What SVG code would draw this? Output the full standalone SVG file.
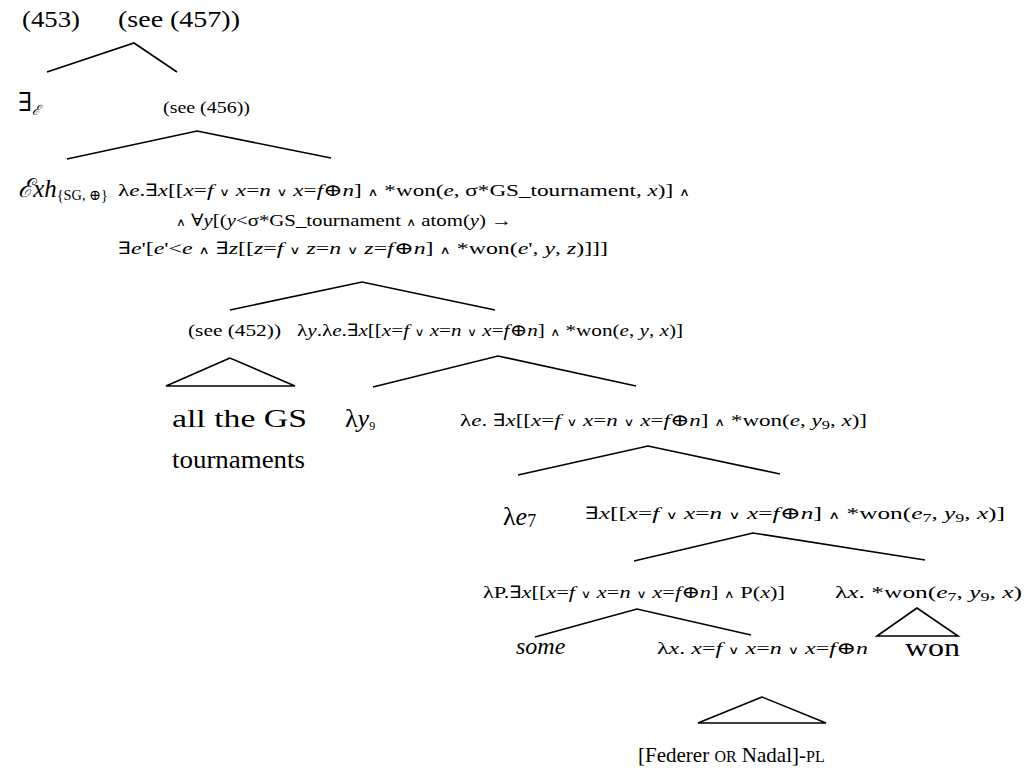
<svg xmlns="http://www.w3.org/2000/svg" width="1028" height="774" viewBox="0 0 1028 774">
<style>
text{font-family:"Liberation Serif","DejaVu Serif",serif;fill:#000}
.f{font-size:17px}
.m{font-size:24px}
.b{font-size:26px}
.i{font-style:italic}
.s{font-size:12px}
.o{font-size:11px}
.sc{font-size:16px}
.edge{stroke:#000;stroke-width:1.6;fill:none;stroke-linejoin:miter}
</style>
<rect width="1028" height="774" fill="#fff"/>
<g id="connectors">
<polyline class="edge" points="47,72 134,43 177,72"/>
<polyline class="edge" points="67,159 197,131 331,158"/>
<polyline class="edge" points="230,310 362,282 495,310"/>
<polygon class="edge" points="230,358 166,386 295,386"/>
<polyline class="edge" points="373,387 498,356 636,386"/>
<polyline class="edge" points="518,475 648,446 780,474"/>
<polyline class="edge" points="634,561 753,533 925,560"/>
<polyline class="edge" points="535,637 637,609 751,635"/>
<polygon class="edge" points="917,608 877,636 958,636"/>
<polygon class="edge" points="762,697 698,723 826,723"/>
</g>
<g id="n453"><text class="m" x="22" y="27" textLength="58" lengthAdjust="spacingAndGlyphs">(453)</text></g>
<g id="root"><text class="m" x="118" y="27" textLength="122" lengthAdjust="spacingAndGlyphs">(see (457))</text></g>
<g id="existsE"><text class="b" x="18" y="111">∃<tspan class="i" font-size="14" dy="4">ℰ</tspan></text></g>
<g id="see456"><text class="f" x="163" y="113" textLength="87" lengthAdjust="spacingAndGlyphs">(see (456))</text></g>
<g id="exh"><text class="b" x="18" y="197" textLength="90" lengthAdjust="spacingAndGlyphs"><tspan class="i">ℰxh</tspan><tspan font-size="15" dy="3">{SG, ⊕}</tspan></text></g>
<g id="formula456">
<text class="f" x="118" y="196" textLength="572" lengthAdjust="spacingAndGlyphs">λ<tspan class="i">e</tspan>.∃<tspan class="i">x</tspan>[[<tspan class="i">x</tspan>=<tspan class="i">f</tspan> <tspan class="o">∨</tspan> <tspan class="i">x</tspan>=<tspan class="i">n</tspan> <tspan class="o">∨</tspan> <tspan class="i">x</tspan>=<tspan class="i">f</tspan>⊕<tspan class="i">n</tspan>] <tspan class="o">∧</tspan> *won(<tspan class="i">e</tspan>, σ*GS_tournament, <tspan class="i">x</tspan>)] <tspan class="o">∧</tspan></text>
<text class="f" x="176" y="226" textLength="336" lengthAdjust="spacingAndGlyphs"><tspan class="o">∧</tspan>  ∀<tspan class="i">y</tspan>[(<tspan class="i">y</tspan>&lt;σ*GS_tournament <tspan class="o">∧</tspan>  atom(<tspan class="i">y</tspan>) →</text>
<text class="f" x="118" y="254" textLength="490" lengthAdjust="spacingAndGlyphs">∃<tspan class="i">e</tspan>'[<tspan class="i">e</tspan>'&lt;<tspan class="i">e</tspan> <tspan class="o">∧</tspan>  ∃<tspan class="i">z</tspan>[[<tspan class="i">z</tspan>=<tspan class="i">f</tspan> <tspan class="o">∨</tspan> <tspan class="i">z</tspan>=<tspan class="i">n</tspan> <tspan class="o">∨</tspan> <tspan class="i">z</tspan>=<tspan class="i">f</tspan>⊕<tspan class="i">n</tspan>] <tspan class="o">∧</tspan> *won(<tspan class="i">e</tspan>', <tspan class="i">y</tspan>, <tspan class="i">z</tspan>)]]]</text>
</g>
<g id="see452"><text class="f" x="188" y="336" textLength="93" lengthAdjust="spacingAndGlyphs">(see (452))</text></g>
<g id="lambdaY"><text class="f" x="297" y="336" textLength="386" lengthAdjust="spacingAndGlyphs">λ<tspan class="i">y</tspan>.λ<tspan class="i">e</tspan>.∃<tspan class="i">x</tspan>[[<tspan class="i">x</tspan>=<tspan class="i">f</tspan> <tspan class="o">∨</tspan> <tspan class="i">x</tspan>=<tspan class="i">n</tspan> <tspan class="o">∨</tspan> <tspan class="i">x</tspan>=<tspan class="i">f</tspan>⊕<tspan class="i">n</tspan>] <tspan class="o">∧</tspan> *won(<tspan class="i">e</tspan>, <tspan class="i">y</tspan>, <tspan class="i">x</tspan>)]</text></g>
<g id="gs"><text class="b" x="172" y="427" textLength="135" lengthAdjust="spacingAndGlyphs">all the GS</text><text class="b" x="172" y="468" textLength="133" lengthAdjust="spacingAndGlyphs">tournaments</text></g>
<g id="ly9"><text class="b" x="345" y="427">λ<tspan class="i">y</tspan><tspan class="s" dy="3">9</tspan></text></g>
<g id="lambdaE"><text class="f" x="460" y="426" textLength="407" lengthAdjust="spacingAndGlyphs">λ<tspan class="i">e</tspan>. ∃<tspan class="i">x</tspan>[[<tspan class="i">x</tspan>=<tspan class="i">f</tspan> <tspan class="o">∨</tspan> <tspan class="i">x</tspan>=<tspan class="i">n</tspan> <tspan class="o">∨</tspan> <tspan class="i">x</tspan>=<tspan class="i">f</tspan>⊕<tspan class="i">n</tspan>] <tspan class="o">∧</tspan> *won(<tspan class="i">e</tspan>, <tspan class="i">y</tspan><tspan class="s" dy="3">9</tspan><tspan dy="-3">, </tspan><tspan class="i">x</tspan>)]</text></g>
<g id="le7"><text class="b" x="503" y="525">λ<tspan class="i">e</tspan><tspan font-size="18" dy="2">7</tspan></text></g>
<g id="existsX"><text class="f" x="585" y="519" textLength="420" lengthAdjust="spacingAndGlyphs">∃<tspan class="i">x</tspan>[[<tspan class="i">x</tspan>=<tspan class="i">f</tspan> <tspan class="o">∨</tspan> <tspan class="i">x</tspan>=<tspan class="i">n</tspan> <tspan class="o">∨</tspan> <tspan class="i">x</tspan>=<tspan class="i">f</tspan>⊕<tspan class="i">n</tspan>] <tspan class="o">∧</tspan> *won(<tspan class="i">e</tspan><tspan class="s" dy="3">7</tspan><tspan dy="-3">, </tspan><tspan class="i">y</tspan><tspan class="s" dy="3">9</tspan><tspan dy="-3">, </tspan><tspan class="i">x</tspan>)]</text></g>
<g id="lambdaP"><text class="f" x="483" y="598" textLength="302" lengthAdjust="spacingAndGlyphs">λP.∃<tspan class="i">x</tspan>[[<tspan class="i">x</tspan>=<tspan class="i">f</tspan> <tspan class="o">∨</tspan> <tspan class="i">x</tspan>=<tspan class="i">n</tspan> <tspan class="o">∨</tspan> <tspan class="i">x</tspan>=<tspan class="i">f</tspan>⊕<tspan class="i">n</tspan>] <tspan class="o">∧</tspan> P(<tspan class="i">x</tspan>)]</text></g>
<g id="lambdaXwon"><text class="f" x="835" y="598" textLength="187" lengthAdjust="spacingAndGlyphs">λ<tspan class="i">x</tspan>. *won(<tspan class="i">e</tspan><tspan class="s" dy="3">7</tspan><tspan dy="-3">, </tspan><tspan class="i">y</tspan><tspan class="s" dy="3">9</tspan><tspan dy="-3">, </tspan><tspan class="i">x</tspan>)</text></g>
<g id="some"><text class="m i" x="516" y="654">some</text></g>
<g id="lambdaX"><text class="f" x="657" y="654" textLength="211" lengthAdjust="spacingAndGlyphs">λ<tspan class="i">x</tspan>. <tspan class="i">x</tspan>=<tspan class="i">f</tspan> <tspan class="o">∨</tspan> <tspan class="i">x</tspan>=<tspan class="i">n</tspan> <tspan class="o">∨</tspan> <tspan class="i">x</tspan>=<tspan class="i">f</tspan>⊕<tspan class="i">n</tspan></text></g>
<g id="won"><text class="b" x="905" y="656" textLength="55" lengthAdjust="spacingAndGlyphs">won</text></g>
<g id="federer"><text font-size="21" x="638" y="762">[Federer <tspan class="sc">OR</tspan> Nadal]-<tspan class="sc">PL</tspan></text></g>
</svg>
